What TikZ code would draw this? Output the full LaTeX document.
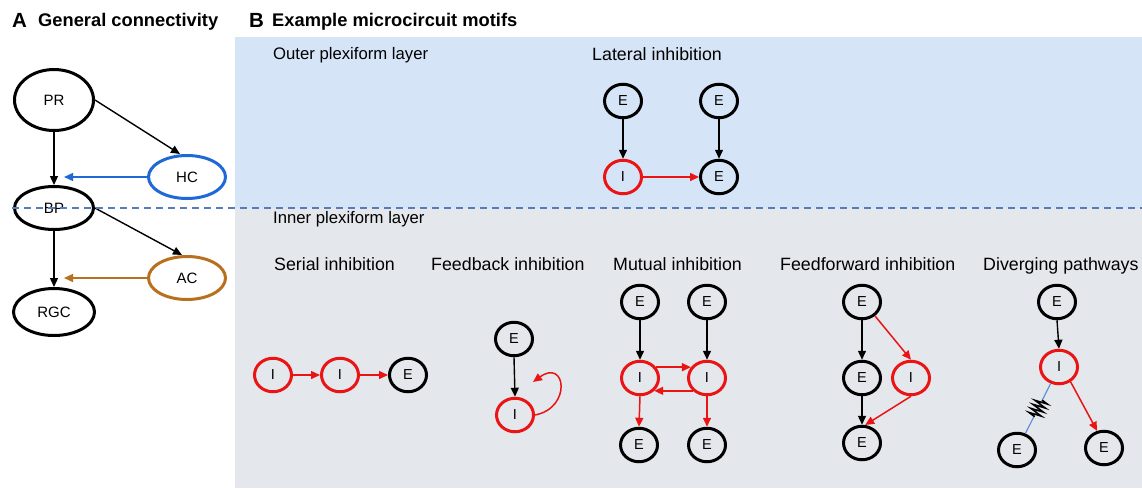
\documentclass[tikz,border=0pt]{standalone}
\usepackage{fontspec}
\setmainfont{Liberation Sans}
\usetikzlibrary{arrows.meta,shapes.geometric,decorations.pathmorphing,calc}
\definecolor{bluebg}{RGB}{214,228,247}
\definecolor{graybg}{RGB}{228,231,235}
\definecolor{dashblue}{RGB}{85,125,185}
\definecolor{inhred}{RGB}{235,20,20}
\definecolor{hcblue}{RGB}{30,105,215}
\definecolor{acbrown}{RGB}{185,112,30}
\definecolor{gapblue}{RGB}{95,145,215}
\begin{document}
\begin{tikzpicture}[x=1pt,y=-1pt,
  bigcell/.style={ellipse, draw=black, line width=3pt, inner sep=0pt, font=\fontsize{15}{15}\selectfont},
  cell/.style={ellipse, draw=black, line width=3pt, minimum width=37pt, minimum height=33.5pt, inner sep=0pt, font=\fontsize{14.5}{15}\selectfont},
  icell/.style={cell, draw=inhred},
  exc/.style={-{Triangle[length=9pt,width=8pt]}, line width=1.4pt, color=black},
  inh/.style={-{Triangle[length=9pt,width=8pt]}, line width=1.5pt, color=inhred},
  title/.style={anchor=base west, inner sep=0pt, font=\fontsize{17.8}{18}\selectfont},
  layerlab/.style={anchor=base west, inner sep=0pt, font=\fontsize{16.7}{17}\selectfont},
  head/.style={anchor=base west, inner sep=0pt, font=\bfseries\fontsize{18.3}{19}\selectfont},
  letter/.style={anchor=base west, inner sep=0pt, font=\bfseries\fontsize{20.5}{21}\selectfont}
]
\useasboundingbox (0,0) rectangle (1142,488);
\fill[white] (0,0) rectangle (1142,488);
\fill[bluebg] (235,37) rectangle (1142,208);
\fill[graybg] (235,208) rectangle (1142,488);

% headings
\node[letter] (hA) at (12,27) {A};
\node[head] (hAt) at (38,26) {General connectivity};
\node[letter] (hB) at (249,27) {B};
\node[head] (hBt) at (272,26) {Example microcircuit motifs};
\node[layerlab] (opl) at (273,59) {Outer plexiform layer};
\node[layerlab] (ipl) at (273,223) {Inner plexiform layer};
\node[title] (tlat) at (592,60) {Lateral inhibition};
\node[title] (tser) at (274,270) {Serial inhibition};
\node[title] (tfb) at (431,270) {Feedback inhibition};
\node[title] (tmu) at (613,270) {Mutual inhibition};
\node[title] (tff) at (780,270) {Feedforward inhibition};
\node[title] (tdiv) at (983,270) {Diverging pathways};

% Panel A
\node[bigcell, minimum width=79pt, minimum height=61pt] (PR) at (54,100) {PR};
\node[bigcell, draw=hcblue, minimum width=77pt, minimum height=43pt] (HC) at (187,177) {HC};
\node[bigcell, minimum width=79pt, minimum height=43pt] (BP) at (54,208) {BP};
\node[bigcell, draw=acbrown, minimum width=77pt, minimum height=43pt] (AC) at (187,278) {AC};
\node[bigcell, minimum width=81pt, minimum height=47pt] (RGC) at (54,312) {RGC};
\coordinate (hcend) at (64,177);
\coordinate (acend) at (64,278);
\draw[exc] (PR.south) -- (BP.north);
\draw[exc] (PR.east) -- ([xshift=-7pt]HC.north);
\draw[exc, color=hcblue] (HC.west) -- (hcend);
\draw[exc] (BP.east) -- ([xshift=-5pt]AC.north);
\draw[exc] (BP.south) -- (RGC.north);
\draw[exc, color=acbrown] (AC.west) -- (acend);

% dashed boundary
\draw[dashblue, line width=1.2pt, dash pattern=on 7pt off 5pt] (12,208) -- (1142,208);

% Lateral inhibition
\node[cell] (LE1) at (623,101) {E};
\node[cell] (LE2) at (719,101) {E};
\node[icell] (LI) at (623,177) {I};
\node[cell] (LE3) at (719,177) {E};
\draw[exc] (LE1.south) -- (LI.north);
\draw[exc] (LE2.south) -- (LE3.north);
\draw[inh] (LI.east) -- (LE3.west);

% Serial inhibition
\node[icell] (SI1) at (273,375) {I};
\node[icell] (SI2) at (340,375) {I};
\node[cell] (SE) at (408,375) {E};
\draw[inh] (SI1.east) -- (SI2.west);
\draw[inh] (SI2.east) -- (SE.west);

% Feedback inhibition
\node[cell] (FE) at (514,339) {E};
\node[icell] (FI) at (515,415) {I};
\coordinate (fbend) at (533,382);
\draw[exc] (FE.south) -- (FI.north);
\draw[inh] (FI.east) .. controls (572,408) and (566,358) .. (fbend);

% Mutual inhibition
\node[cell] (ME1) at (640,302) {E};
\node[cell] (ME2) at (707,302) {E};
\node[icell] (MI1) at (640,378) {I};
\node[icell] (MI2) at (707,378) {I};
\node[cell] (ME3) at (639,445) {E};
\node[cell] (ME4) at (707,445) {E};
\draw[exc] (ME1.south) -- (MI1.north);
\draw[exc] (ME2.south) -- (MI2.north);
\draw[inh] (MI1.34) -- (MI2.146);
\draw[inh] (MI2.-138) -- (MI1.-42);
\draw[inh] (MI1.south) -- (ME3.north);
\draw[inh] (MI2.south) -- (ME4.north);

% Feedforward inhibition
\node[cell] (FFE1) at (862,302) {E};
\node[cell] (FFE2) at (862,378) {E};
\node[icell] (FFI) at (911,378) {I};
\node[cell] (FFE3) at (862,443) {E};
\draw[exc] (FFE1.south) -- (FFE2.north);
\draw[exc] (FFE2.south) -- (FFE3.north);
\draw[inh] (FFE1.-47) -- (FFI.north);
\draw[inh] (FFI.south) -- (FFE3.80);

% Diverging pathways
\node[cell] (DE1) at (1057,302) {E};
\node[icell] (DI) at (1059,367) {I};
\node[cell] (DE2) at (1017,450) {E};
\node[cell] (DE3) at (1104,448) {E};
\draw[exc] (DE1.south) -- (DI.north);
\draw[inh] (DI.-52) -- (DE3.112);
\draw[gapblue, line width=1.2pt] (DI) -- (DE2);
\draw[black, line width=1.5pt, decorate, decoration={zigzag, segment length=4.5pt, amplitude=6.5pt}]
  ($(DI)!0.40!(DE2)$) -- ($(DI)!0.60!(DE2)$);
\end{tikzpicture}
\end{document}
